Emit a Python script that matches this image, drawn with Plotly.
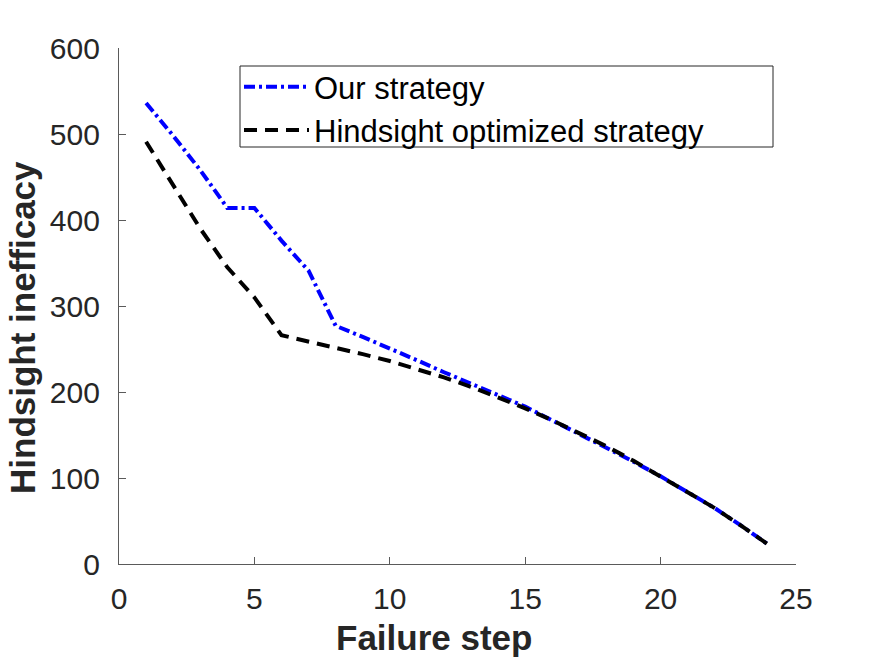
import plotly.graph_objects as go

failure_step = list(range(1, 25))
our_strategy = [536, 498, 458, 414, 414, 376, 341, 277, 264, 251, 237, 223,
                210, 197, 183, 167, 151, 136, 119, 102, 84, 65, 44, 22]
hindsight_optimized = [491, 440, 390, 345, 310, 266, 259, 252, 244, 236, 227, 217,
                       206, 194, 181, 167, 152, 137, 120, 102, 84, 65, 44, 22]

x_ticks = [0, 5, 10, 15, 20, 25]
y_ticks = [0, 100, 200, 300, 400, 500, 600]

FONT = "Liberation Sans, Arial, Helvetica, sans-serif"
AXIS_COLOR = "#5a5a5a"
TEXT_COLOR = "#262626"

# plot area in pixels
L, R, T, B = 119, 796, 48, 564
PW, PH = R - L, B - T


def px_x(p):
    return (p - L) / PW


def px_y(p):
    return (B - p) / PH


fig = go.Figure()
fig.add_trace(go.Scatter(
    x=failure_step, y=our_strategy, mode="lines", name="Our strategy",
    line=dict(color="#0000ff", width=4, dash="11px,4px,3px,4px"),
))
fig.add_trace(go.Scatter(
    x=failure_step, y=hindsight_optimized, mode="lines", name="Hindsight optimized strategy",
    line=dict(color="#000000", width=4, dash="13px,8px"),
))

# legend box (decoration)
fig.add_shape(type="rect", xref="paper", yref="paper",
              x0=px_x(240), x1=px_x(773), y0=px_y(147), y1=px_y(66),
              line=dict(color=TEXT_COLOR, width=1), fillcolor="rgba(0,0,0,0)", layer="above")

fig.update_layout(
    width=875, height=657,
    margin=dict(l=L, r=875 - R, t=T, b=657 - B),
    paper_bgcolor="white", plot_bgcolor="white",
    font=dict(family=FONT, color=TEXT_COLOR, size=30),
    showlegend=True,
    legend=dict(
        x=px_x(239), y=px_y(60), xanchor="left", yanchor="top",
        bgcolor="rgba(255,255,255,0)", borderwidth=0,
        font=dict(family=FONT, size=31, color="#000000"),
        itemwidth=65, tracegroupgap=0,
    ),
    annotations=[
        dict(text="<b>Hindsight inefficacy</b>", xref="paper", yref="paper",
             x=px_x(22), y=px_y(328), xanchor="center", yanchor="middle",
             textangle=-90, showarrow=False,
             font=dict(size=35, family=FONT, color=TEXT_COLOR)),
        dict(text="<b>Failure step</b>", xref="paper", yref="paper",
             x=px_x(434), y=px_y(637), xanchor="center", yanchor="middle",
             showarrow=False,
             font=dict(size=35, family=FONT, color=TEXT_COLOR)),
    ],
)
fig.update_xaxes(
    range=[0, 25], tickvals=x_ticks, ticktext=[str(v) for v in x_ticks],
    showline=True, linecolor=AXIS_COLOR, linewidth=1.2,
    ticks="inside", ticklen=7, tickcolor=AXIS_COLOR, tickwidth=1,
    showgrid=False, zeroline=False, mirror=False,
    tickfont=dict(size=30, family=FONT, color=TEXT_COLOR),
    ticklabelstandoff=8,
)
fig.update_yaxes(
    range=[0, 600], tickvals=y_ticks, ticktext=[str(v) for v in y_ticks],
    showline=True, linecolor=AXIS_COLOR, linewidth=1.2,
    ticks="inside", ticklen=7, tickcolor=AXIS_COLOR, tickwidth=1,
    showgrid=False, zeroline=False, mirror=False,
    tickfont=dict(size=30, family=FONT, color=TEXT_COLOR),
    ticklabelstandoff=12,
)

fig.write_html("out.html")
